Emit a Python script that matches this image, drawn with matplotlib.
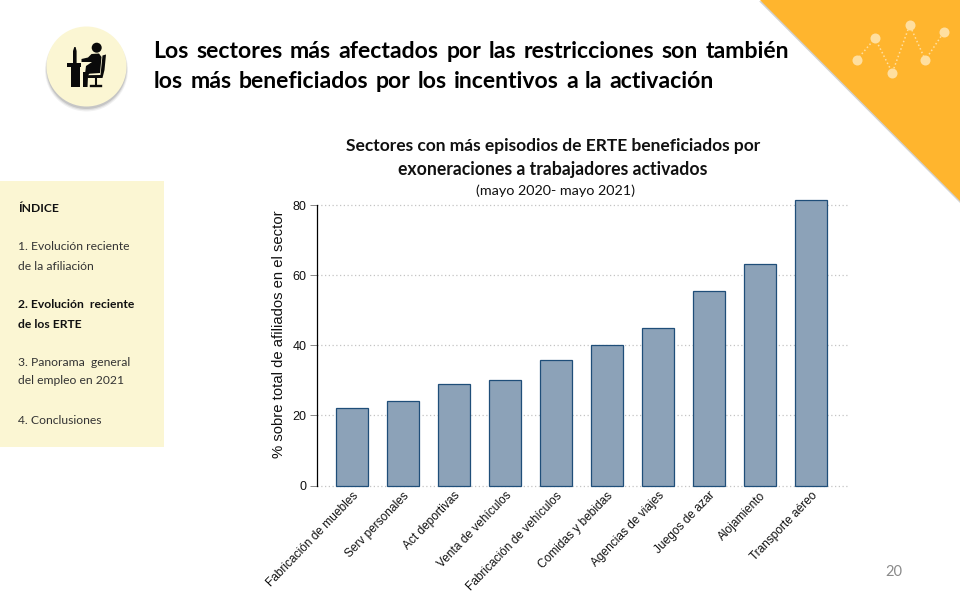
import matplotlib
matplotlib.use("Agg")
import matplotlib.pyplot as plt
from matplotlib.patches import Circle, Polygon, Rectangle

categories = ["Fabricación de muebles", "Serv personales", "Act deportivas", "Venta de vehículos",
              "Fabricación de vehículos", "Comidas y bebidas", "Agencias de viajes", "Juegos de azar",
              "Alojamiento", "Transporte aéreo"]
values = [22.0, 24.0, 29.0, 30.2, 35.7, 40.0, 45.0, 55.5, 63.2, 81.5]
yticks = [0, 20, 40, 60, 80]
title_lines = ["Los sectores más afectados por las restricciones son también",
               "los más beneficiados por los incentivos a la activación"]
index_lines = [("ÍNDICE", True, 208), ("1. Evolución reciente", False, 247), ("de la afiliación", False, 266),
               ("2. Evolución  reciente", True, 304), ("de los ERTE", True, 324),
               ("3. Panorama  general", False, 362), ("del empleo en 2021", False, 381),
               ("4. Conclusiones", False, 420)]
deco_x = [856.7, 875, 892.3, 909.7, 925.3, 943.7]
deco_y = [60, 38.3, 72.7, 25, 60, 32.3]

W, H = 960, 600
fig = plt.figure(figsize=(9.6, 6), dpi=100, facecolor="white")

bg = fig.add_axes([0, 0, 1, 1], zorder=0)
bg.set_xlim(0, W); bg.set_ylim(H, 0); bg.axis("off")

# orange corner with soft edge
bg.add_patch(Polygon([[759, 1.2], [960, 203], [960, 0]], closed=True, fc="#9a9a9a", ec="none", alpha=.45))
bg.add_patch(Polygon([[760, 0], [960, 201], [960, 0]], closed=True, fc="#FFB52E", ec="none"))
bg.plot(deco_x, deco_y, color="#FFDFA0", lw=1.1, ls=(0, (1, 1.6)), zorder=3)
bg.scatter(deco_x, deco_y, s=52, color="#FFDFA0", linewidths=0, zorder=4)

# icon badge
for r, a, dy in [(41.5, .08, 3.5), (40.7, .12, 3), (40, .18, 2.5)]:
    bg.add_patch(Circle((86.5, 66.5 + dy), r, fc="#555555", ec="none", alpha=a))
bg.add_patch(Circle((86.5, 66.5), 40, fc="#FBF6D3", ec="none"))
k = "#0a0a0a"
bg.add_patch(Circle((96.7, 47.7), 5, fc=k, ec="none"))
bg.add_patch(Polygon([[91.5, 54], [99, 53.5], [101.5, 57], [100, 73], [85, 74], [86, 66], [92, 62],
                      [81.5, 62], [81.5, 59], [88, 57.5]], fc=k, ec="none"))
bg.add_patch(Polygon([[83, 72], [90, 72], [88, 76], [87.5, 87], [83, 87]], fc=k, ec="none"))
bg.add_patch(Polygon([[102.5, 55.5], [106, 54.5], [104.5, 70], [102.5, 78], [87.5, 78], [87.5, 75.2],
                      [100.5, 75]], fc=k, ec="none"))
bg.plot([95.7, 95.7], [78, 85], color=k, lw=1.5)
bg.plot([91, 100.7], [85.7, 85.7], color=k, lw=1.7)
bg.add_patch(Rectangle((67, 63), 14, 3.6, fc=k, ec="none"))
bg.add_patch(Rectangle((70.7, 66), 9.3, 20.5, fc=k, ec="none"))
bg.add_patch(Polygon([[73, 63], [73, 51], [74.3, 47], [75.6, 47], [76.6, 51], [76.6, 63]], fc=k, ec="none"))

# index panel
bg.add_patch(Rectangle((0, 181), 164, 266, fc="#FBF6D3", ec="none"))
for txt, bold, y in index_lines:
    bg.text(18.5, y, txt, fontsize=8.7, family="Lato", weight="bold" if bold else "normal",
            color="#111111" if bold else "#333333", va="center", ha="left")

# justified slide title
fig.canvas.draw()
rend = fig.canvas.get_renderer()
def put_line(line, y, x0, x1):
    words = line.split(" ")
    arts = [bg.text(0, y, w, fontsize=16.6, family="Lato", weight="bold", color="black", va="center") for w in words]
    ws = [a.get_window_extent(rend).width for a in arts]
    gap = (x1 - x0 - sum(ws)) / (len(words) - 1)
    x = x0
    for a, w in zip(arts, ws):
        a.set_x(x); x += w + gap
put_line(title_lines[0], 51, 153.5, 789)
put_line(title_lines[1], 81, 154, 714)

# chart titles
bg.text(553, 146, "Sectores con más episodios de ERTE beneficiados por", fontsize=12.5, family="Lato",
        weight="bold", ha="center", va="center", color="#111111")
bg.text(553, 169.5, "exoneraciones a trabajadores activados", fontsize=12.7, family="Lato",
        weight="bold", ha="center", va="center", color="#111111")
bg.text(555.5, 191, "(mayo 2020- mayo 2021)", fontsize=10.4, family="Lato", ha="center", va="center", color="#111111")
bg.text(894, 572, "20", fontsize=10.5, family="Lato", color="#8a8a8a", ha="center", va="center")

# bar chart
ax = fig.add_axes([316.5 / W, 1 - 485.5 / H, (847 - 316.5) / W, (485.5 - 205) / H], zorder=2)
ax.patch.set_alpha(0)
pos = list(range(len(categories)))
ax.bar(pos, values, width=0.61, color="#8CA2B8", edgecolor="#1F4E79", linewidth=0.9, clip_on=False, zorder=3)
ax.set_xlim(-0.696, 9.706)
ax.set_ylim(0, 80)
ax.set_yticks(yticks)
ax.set_xticks(pos)
ax.set_xticklabels(categories, rotation=46, ha="right", rotation_mode="anchor", fontsize=8.55, family="Liberation Sans")
ax.set_ylabel("% sobre total de afiliados en el sector", fontsize=10.75, family="Liberation Sans", color="#111111",
              y=0.538, labelpad=5)
for lab in ax.get_yticklabels():
    lab.set_family("Liberation Sans"); lab.set_fontsize(9)
ax.grid(axis="y", color="#c4c4c4", lw=0.9, ls=(0, (1, 2)), zorder=0, clip_on=False)
ax.tick_params(axis="y", length=5, width=0.7, color="#888888", pad=2, labelcolor="#111111")
ax.tick_params(axis="x", length=0, pad=3, labelcolor="#111111")
for s in ["top", "right", "bottom"]:
    ax.spines[s].set_visible(False)
ax.spines["left"].set_color("black"); ax.spines["left"].set_linewidth(0.9)

fig.savefig("out.png", dpi=100)
